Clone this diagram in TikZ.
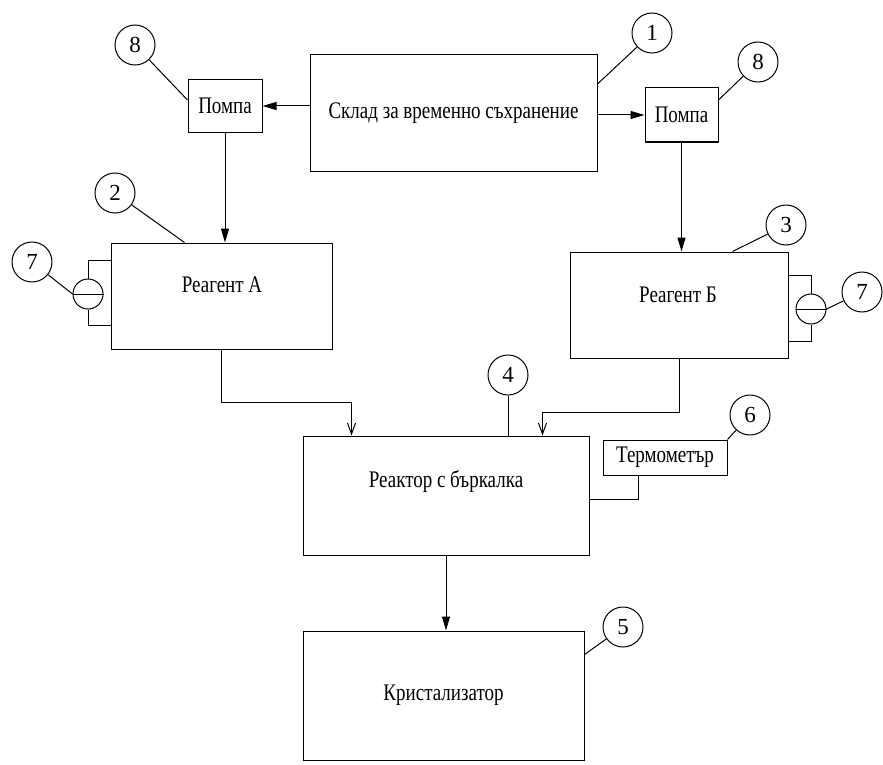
\documentclass[tikz,border=0pt]{standalone}
\usepackage{graphicx}
\usepackage{fontspec}
\setmainfont{Liberation Serif}
\usetikzlibrary{arrows.meta,calc}
\newcommand\tallword[1]{\scalebox{1}[1.25]{#1}}
\begin{document}
\begin{tikzpicture}[x=1pt,y=-1pt,line width=1pt,
  box/.style={draw,rectangle,inner sep=0pt},
  word/.style={font=\fontsize{19}{22}\selectfont},
  num/.style={draw,circle,minimum size=40pt,inner sep=0pt,font=\fontsize{23}{26}\selectfont},
  gauge/.style={draw,circle,minimum size=30pt,inner sep=0pt},
  arr/.style={-{Triangle[length=14pt,width=8pt]}},
  varr/.style={-{Straight Barb[length=11pt,width=8pt]}}]
\useasboundingbox (0,0) rectangle (883,765);

% main boxes
\node[box,minimum width=287pt,minimum height=116pt,word] (store) at (453.5,113) {\tallword{Склад за временно съхранение}};
\node[box,minimum width=74pt,minimum height=53pt,word] (pumpL) at (225,106) {\tallword{Помпа}};
\node[box,minimum width=73pt,minimum height=54pt,word] (pumpR) at (681.5,115) {\tallword{Помпа}};
\node[box,minimum width=221pt,minimum height=106pt] (reaA) at (221.5,296) {};
\node[word] (tA) at (222,285) {\tallword{Реагент А}};
\node[box,minimum width=218pt,minimum height=106pt] (reaB) at (679,305) {};
\node[word] (tB) at (678,295) {\tallword{Реагент Б}};
\node[box,minimum width=286pt,minimum height=119pt] (reac) at (446,495.5) {};
\node[word] (tR) at (446,482) {\tallword{Реактор с бъркалка}};
\node[box,minimum width=124pt,minimum height=35pt,word] (thermo) at (665,457.5) {\tallword{Термометър}};
\node[box,minimum width=281pt,minimum height=129pt,word] (cryst) at (443.5,695.5) {\tallword{Кристализатор}};

% gauges
\node[gauge] (gL) at (88,294) {};
\draw (gL.west) -- (gL.east);
\node[gauge] (gR) at (811,309) {};
\draw (gR.west) -- (gR.east);
\draw ([yshift=-18pt]reaA.north west) -| (gL.north);
\draw (gL.south) |- ([yshift=24pt]reaA.south west);
\draw ([yshift=-24pt]reaB.north east) -| (gR.north);
\draw (gR.south) |- ([yshift=17pt]reaB.south east);

% numbered circles
\node[num] (c1) at (652,33) {1};
\node[num] (c8L) at (135,45) {8};
\node[num] (c8R) at (758,62) {8};
\node[num] (c2) at (115,193) {2};
\node[num] (c3) at (786,225) {3};
\node[num] (c7L) at (32,262) {7};
\node[num] (c7R) at (862,292) {7};
\node[num] (c4) at (508,375) {4};
\node[num] (c6) at (750,415) {6};
\node[num] (c5) at (623,627) {5};

% leaders
\draw (c1) -- ([yshift=29pt]store.east);
\draw (c8L) -- ([yshift=6pt]pumpL.west);
\draw (c8R) -- ([yshift=15pt]pumpR.east);
\draw (c2) -- ([xshift=74pt]reaA.north west);
\draw (c3) -- ([xshift=-56pt]reaB.north east);
\draw (c7L) -- (gL.west);
\draw (c7R) -- (gR.east);
\draw (c4) -- (c4 |- reac.north);
\draw (c6) -- (thermo.north east);
\draw (c5) -- ([yshift=-24pt]cryst.north east);

% flows
\draw[arr] (store.west |- pumpL.east) -- (pumpL.east);
\draw[arr] (store.east |- pumpR.west) -- (pumpR.west);
\draw[arr] (pumpL.south) -- (pumpL.south |- reaA.north);
\draw[arr] (pumpR.south) -- (pumpR.south |- reaB.north);
\draw[varr] (reaA.south) |- ([xshift=49pt,yshift=33pt]reac.north west) -- ([xshift=49pt]reac.north west);
\draw[varr] (reaB.south) |- ([xshift=240pt,yshift=23pt]reac.north west) -- ([xshift=240pt]reac.north west);
\draw ([yshift=-3.5pt]reac.east) -| ([xshift=-27pt]thermo.south);
\draw[arr] (reac.south) -- (reac.south |- cryst.north);
\end{tikzpicture}
\end{document}
